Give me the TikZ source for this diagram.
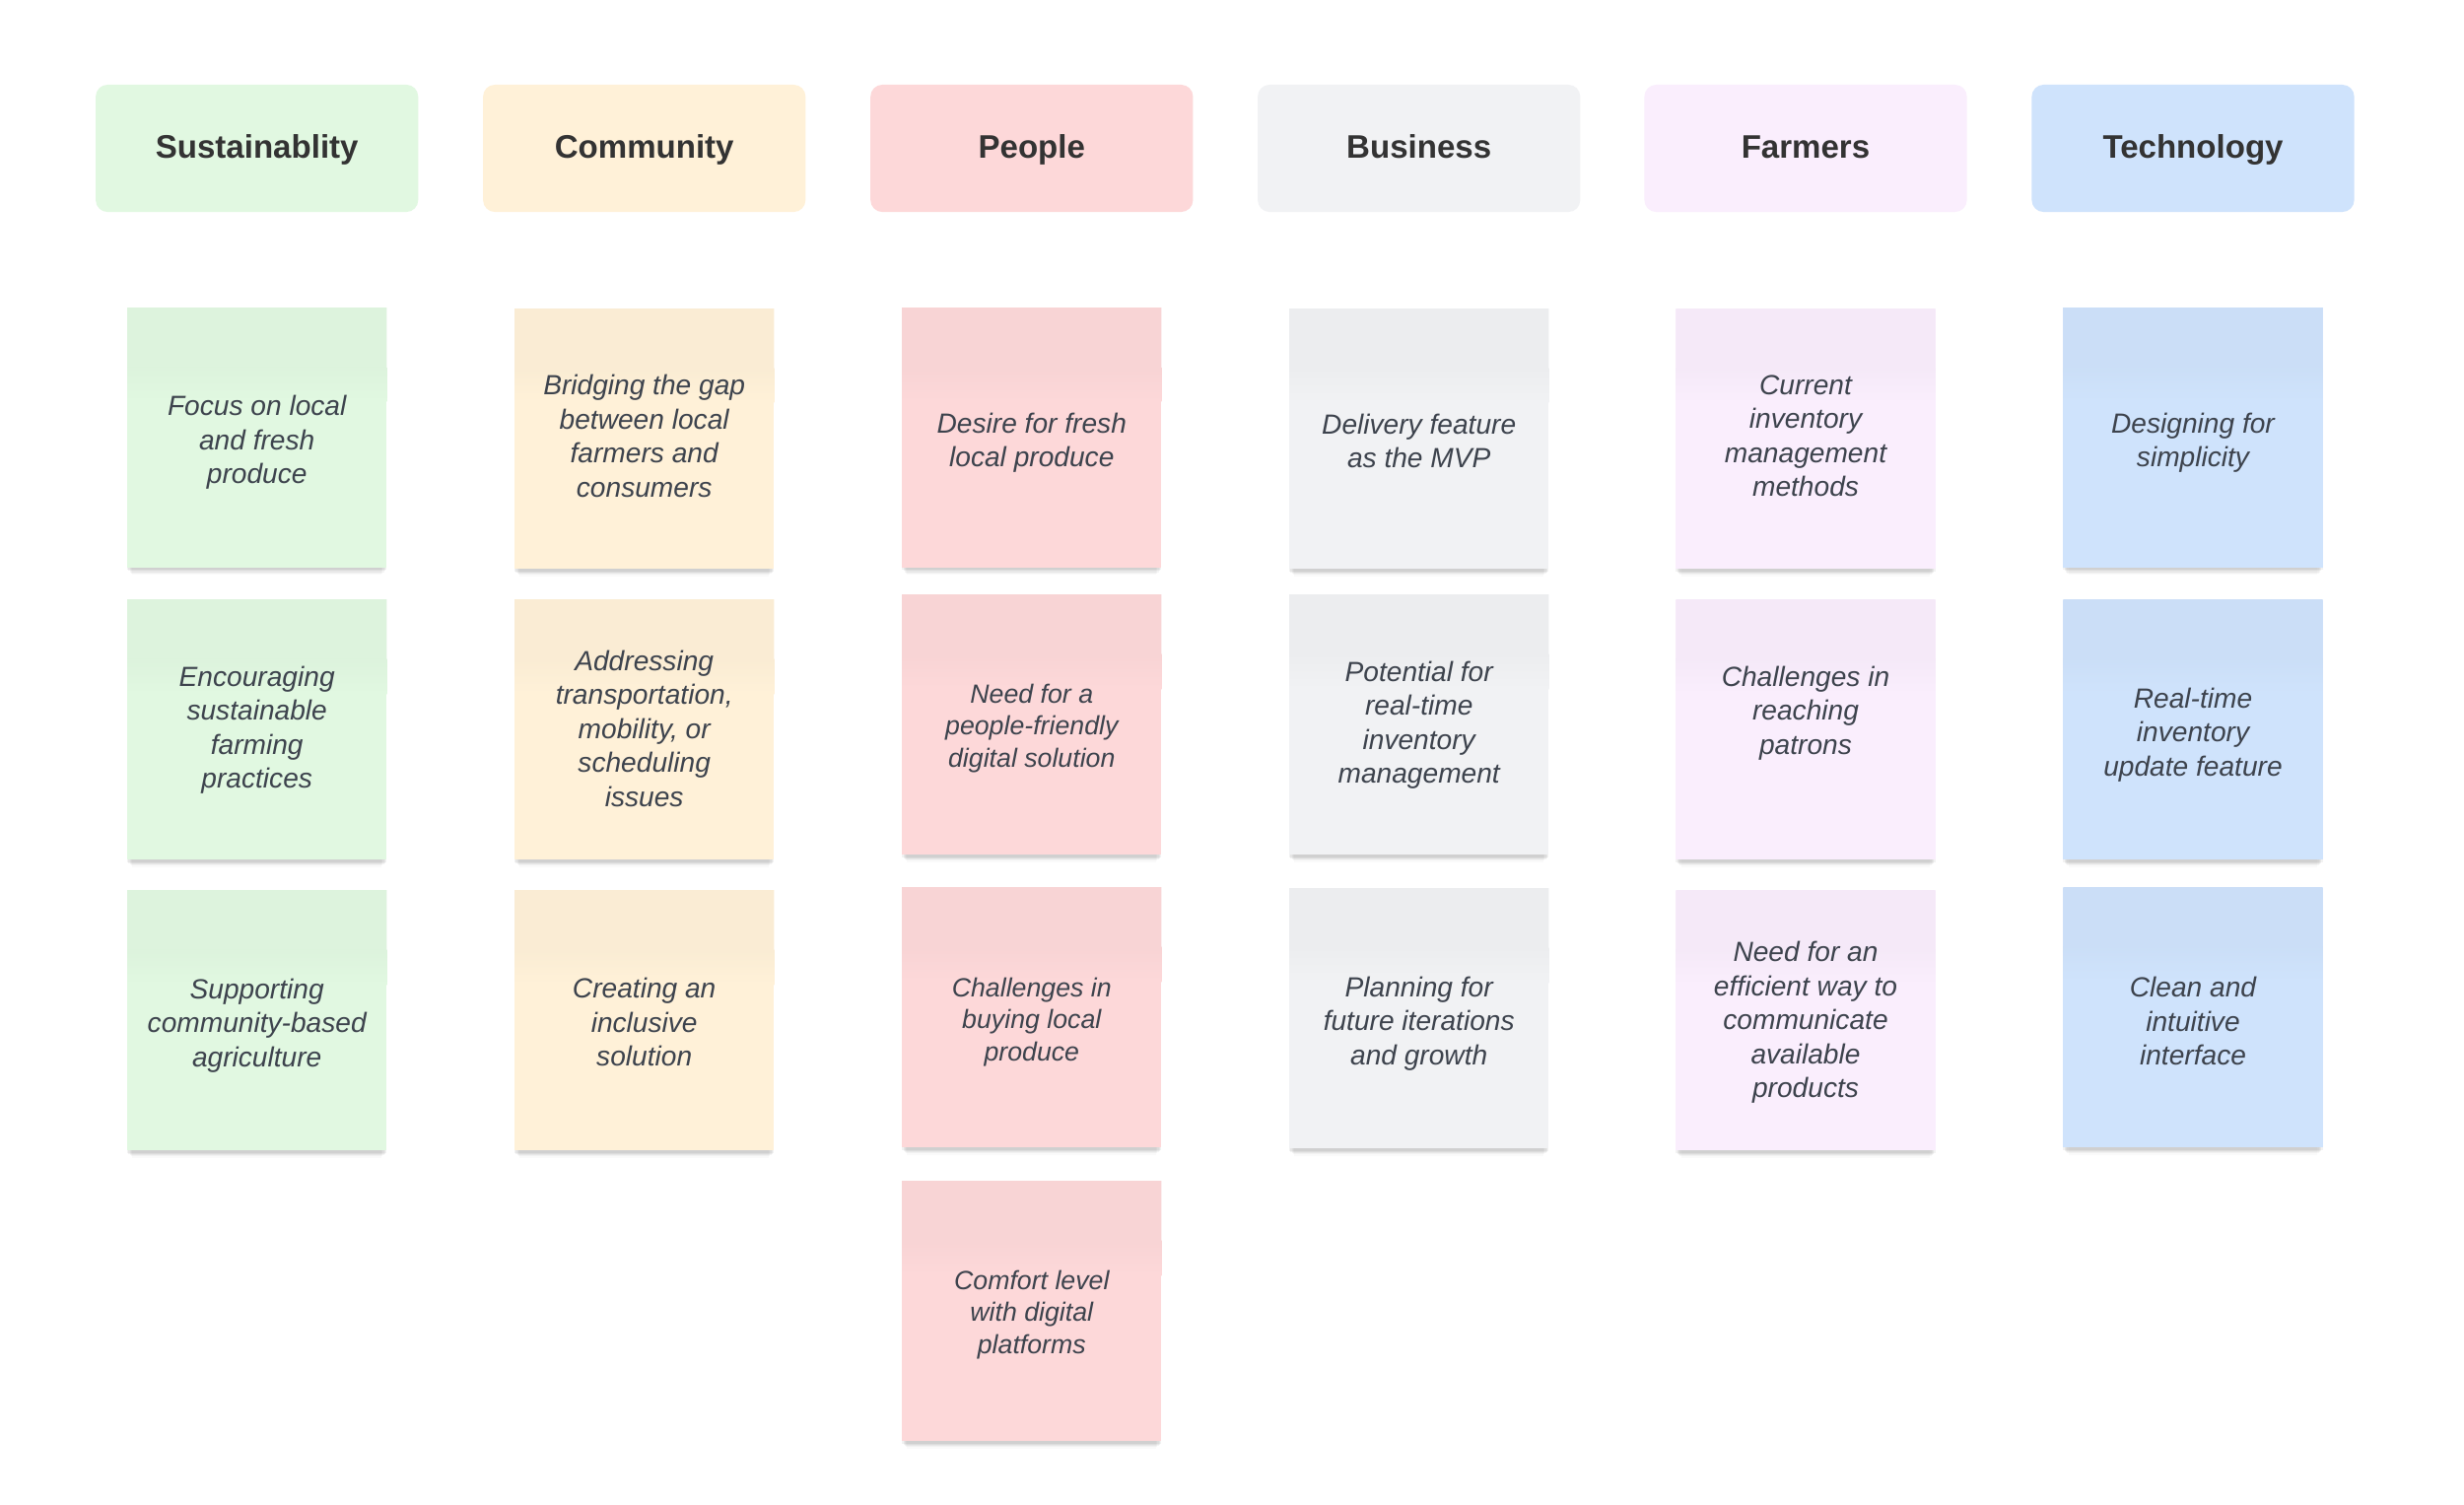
\documentclass[tikz,border=0pt]{standalone}
\usepackage{fontspec}
\setmainfont{Liberation Sans}
\usetikzlibrary{shadows}
\definecolor{cgreen}{HTML}{E1F8E1}
\definecolor{cyellow}{HTML}{FFF1D8}
\definecolor{cpink}{HTML}{FDD8D9}
\definecolor{cgray}{HTML}{F1F2F4}
\definecolor{cpurple}{HTML}{FAEEFD}
\definecolor{cblue}{HTML}{CFE3FC}
\definecolor{stxt}{HTML}{3D434D}
\definecolor{htxt}{HTML}{333333}
\tikzset{
  hdr/.style={rounded corners=0.12cm, minimum width=3.27cm, minimum height=1.29cm,
    inner sep=0pt, text=htxt, text height=0.74em, text depth=0.15em,
    font=\bfseries\fontsize{9.4}{11}\selectfont},
  stickybox/.style={minimum width=2.63cm, minimum height=2.63cm, inner sep=0pt, fill=#1,
    drop shadow={shadow xshift=0pt, shadow yshift=-3.8pt, opacity=0.02, fill=black, shadow scale=0.96},
    drop shadow={shadow xshift=0pt, shadow yshift=-3.0pt, opacity=0.03, fill=black, shadow scale=0.97},
    drop shadow={shadow xshift=0pt, shadow yshift=-2.2pt, opacity=0.04, fill=black, shadow scale=0.98},
    drop shadow={shadow xshift=0pt, shadow yshift=-1.4pt, opacity=0.05, fill=black, shadow scale=0.99},
    drop shadow={shadow xshift=0pt, shadow yshift=-0.7pt, opacity=0.05, fill=black},
    path picture={
      \fill[#1!98!black] ([xshift=-3pt,yshift=3pt]path picture bounding box.north west) rectangle ([xshift=3pt,yshift=-0.6cm]path picture bounding box.north east);
      \shade[top color=#1!98!black, bottom color=#1] ([xshift=-3pt,yshift=-0.6cm]path picture bounding box.north west) rectangle ([xshift=3pt,yshift=-0.95cm]path picture bounding box.north east);
    }},
  stext/.style={align=center, text=stxt, inner sep=0pt, font=\itshape\fontsize{8.0}{9.8}\selectfont},
  ppl/.style={font=\itshape\fontsize{7.6}{9.3}\selectfont}
}
\begin{document}
\begin{tikzpicture}[x=0.01cm,y=-0.01cm]
\useasboundingbox (0,0) rectangle (2500,1526);
\fill[white] (0,0) rectangle (2500,1526);
% headers
\node[hdr, fill=cgreen] (h1) at (260.7,150.5) {Sustainablity};
\node[hdr, fill=cyellow] (h2) at (653.7,150.5) {Community};
\node[hdr, fill=cpink] (h3) at (1046.8,150.5) {People};
\node[hdr, fill=cgray] (h4) at (1439.7,150.5) {Business};
\node[hdr, fill=cpurple] (h5) at (1832,150.5) {Farmers};
\node[hdr, fill=cblue] (h6) at (2225,150.5) {Technology};
% boxes
\node[stickybox=cgreen] (s11) at (260.7,444) {};
\node[stickybox=cgreen] (s12) at (260.7,740.5) {};
\node[stickybox=cgreen] (s13) at (260.7,1035.5) {};
\node[stickybox=cyellow] (s21) at (653.7,445.5) {};
\node[stickybox=cyellow] (s22) at (653.7,740.5) {};
\node[stickybox=cyellow] (s23) at (653.7,1035.5) {};
\node[stickybox=cpink] (s31) at (1046.8,444) {};
\node[stickybox=cpink] (s32) at (1046.8,735.5) {};
\node[stickybox=cpink] (s33) at (1046.8,1032.5) {};
\node[stickybox=cpink] (s34) at (1046.8,1330.5) {};
\node[stickybox=cgray] (s41) at (1439.7,445.5) {};
\node[stickybox=cgray] (s42) at (1439.7,735.5) {};
\node[stickybox=cgray] (s43) at (1439.7,1033.5) {};
\node[stickybox=cpurple] (s51) at (1832,445.5) {};
\node[stickybox=cpurple] (s52) at (1832,740.5) {};
\node[stickybox=cpurple] (s53) at (1832,1035.5) {};
\node[stickybox=cblue] (s61) at (2225,444) {};
\node[stickybox=cblue] (s62) at (2225,740.5) {};
\node[stickybox=cblue] (s63) at (2225,1032.5) {};
% texts
\node[stext] (t11) at ([yshift=-0.05cm]s11.center) {Focus on local\\and fresh\\produce};
\node[stext] (t12) at ([yshift=0cm]s12.center) {Encouraging\\sustainable\\farming\\practices};
\node[stext] (t13) at ([yshift=-0.05cm]s13.center) {Supporting\\community-based\\agriculture};
\node[stext] (t21) at ([yshift=0.03cm]s21.center) {Bridging the gap\\between local\\farmers and\\consumers};
\node[stext] (t22) at ([yshift=0.014cm]s22.center) {Addressing\\transportation,\\mobility, or\\scheduling\\issues};
\node[stext] (t23) at ([yshift=-0.018cm]s23.center) {Creating an\\inclusive\\solution};
\node[stext] (t31) at ([yshift=-0.05cm]s31.center) {Desire for fresh\\local produce};
\node[stext, ppl] (t32) at ([yshift=-0.035cm]s32.center) {Need for a\\people-friendly\\digital solution};
\node[stext, ppl] (t33) at ([yshift=-0.045cm]s33.center) {Challenges in\\buying local\\produce};
\node[stext, ppl] (t34) at ([yshift=-0.035cm]s34.center) {Comfort level\\with digital\\platforms};
\node[stext] (t41) at ([yshift=-0.018cm]s41.center) {Delivery feature\\as the MVP};
\node[stext] (t42) at ([yshift=0cm]s42.center) {Potential for\\real-time\\inventory\\management};
\node[stext] (t43) at ([yshift=-0.05cm]s43.center) {Planning for\\future iterations\\and growth};
\node[stext] (t51) at ([yshift=0.03cm]s51.center) {Current\\inventory\\management\\methods};
\node[stext] (t52) at ([yshift=0.17cm]s52.center) {Challenges in\\reaching\\patrons};
\node[stext] (t53) at ([yshift=-0.018cm]s53.center) {Need for an\\efficient way to\\communicate\\available\\products};
\node[stext] (t61) at ([yshift=-0.05cm]s61.center) {Designing for\\simplicity};
\node[stext] (t62) at ([yshift=-0.05cm]s62.center) {Real-time\\inventory\\update feature};
\node[stext] (t63) at ([yshift=-0.035cm]s63.center) {Clean and\\intuitive\\interface};
\end{tikzpicture}
\end{document}
